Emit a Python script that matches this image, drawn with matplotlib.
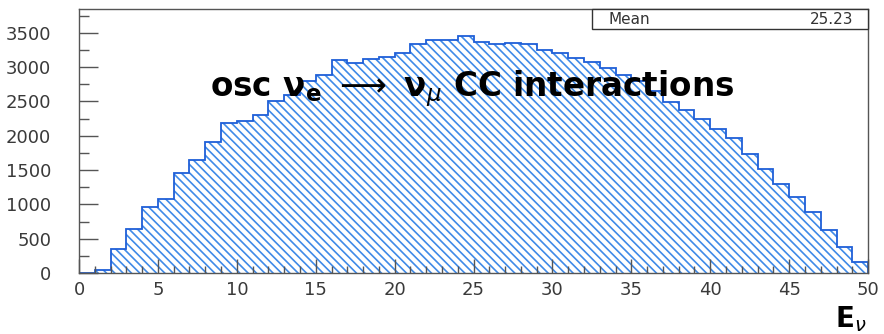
import numpy as np
import matplotlib
matplotlib.use('Agg')
import matplotlib.pyplot as plt
from matplotlib.patches import Rectangle
from matplotlib.ticker import MultipleLocator

# bin edges 0..50, one GeV per bin
bin_edges = list(range(0, 51))
counts = [0, 40, 355, 646, 960, 1083, 1455, 1640, 1907, 2185,
          2220, 2300, 2500, 2600, 2800, 2880, 3100, 3060, 3120, 3150,
          3210, 3330, 3390, 3400, 3450, 3370, 3340, 3345, 3330, 3250,
          3200, 3130, 3070, 2990, 2880, 2800, 2650, 2490, 2370, 2250,
          2100, 1960, 1740, 1520, 1300, 1106, 888, 621, 378, 160]
mean_label = "25.23"
x_ticks = [0, 5, 10, 15, 20, 25, 30, 35, 40, 45, 50]
y_ticks = [0, 500, 1000, 1500, 2000, 2500, 3000, 3500]

plt.rcParams['hatch.linewidth'] = 1.2
plt.rcParams['mathtext.fontset'] = 'dejavusans'

fig = plt.figure(figsize=(8.84, 3.34), dpi=100)
ax = fig.add_axes([0.0894, 0.1825, 0.8926, 0.7895])

# hatched fill + outline
ax.stairs(counts, bin_edges, fill=True, facecolor='none', edgecolor='#3f8ae8',
          hatch='\\\\\\\\', linewidth=0)
ax.stairs(counts, bin_edges, color='#1f5fd8', linewidth=1.3)

ax.set_xlim(0, 50)
ax.set_ylim(0, 3840)
ax.set_xticks(x_ticks)
ax.set_yticks(y_ticks)
ax.xaxis.set_minor_locator(MultipleLocator(1))
ax.yaxis.set_minor_locator(MultipleLocator(250))

ax.tick_params(axis='both', which='both', direction='in', colors='#555555',
               labelcolor='#3a3a3a', labelsize=13, top=False, right=False)
ax.tick_params(axis='y', which='major', length=14, pad=20, width=1)
ax.tick_params(axis='y', which='minor', length=7, width=1)
ax.tick_params(axis='x', which='major', length=10, pad=6, width=1)
ax.tick_params(axis='x', which='minor', length=5, width=1)
for s in ax.spines.values():
    s.set_color('#555555')
    s.set_linewidth(1.0)

# title inside the frame
ax.text(24.9, 2690,
        r'osc $\mathregular{\nu}_{\mathbf{e}}$ $\longrightarrow$ $\mathregular{\nu}_{\mu}$ CC interactions',
        ha='center', va='center', fontsize=23.5, fontweight='bold',
        family='DejaVu Sans', color='black')

# stats box
ax.add_patch(Rectangle((0.65, 0.924), 0.35, 0.076, transform=ax.transAxes,
                       facecolor='white', edgecolor='#333333', linewidth=1.0,
                       clip_on=False, zorder=5))
ax.text(0.671, 0.962, 'Mean', transform=ax.transAxes, ha='left', va='center',
        fontsize=11, color='#333333', zorder=6)
ax.text(0.981, 0.962, mean_label, transform=ax.transAxes, ha='right', va='center',
        fontsize=11, color='#333333', zorder=6)

fig.text(0.962, 0.045, r'E$_{\nu}$', ha='center', va='center',
         fontsize=20, fontweight='bold', color='black')

fig.savefig('out.png', dpi=100)
